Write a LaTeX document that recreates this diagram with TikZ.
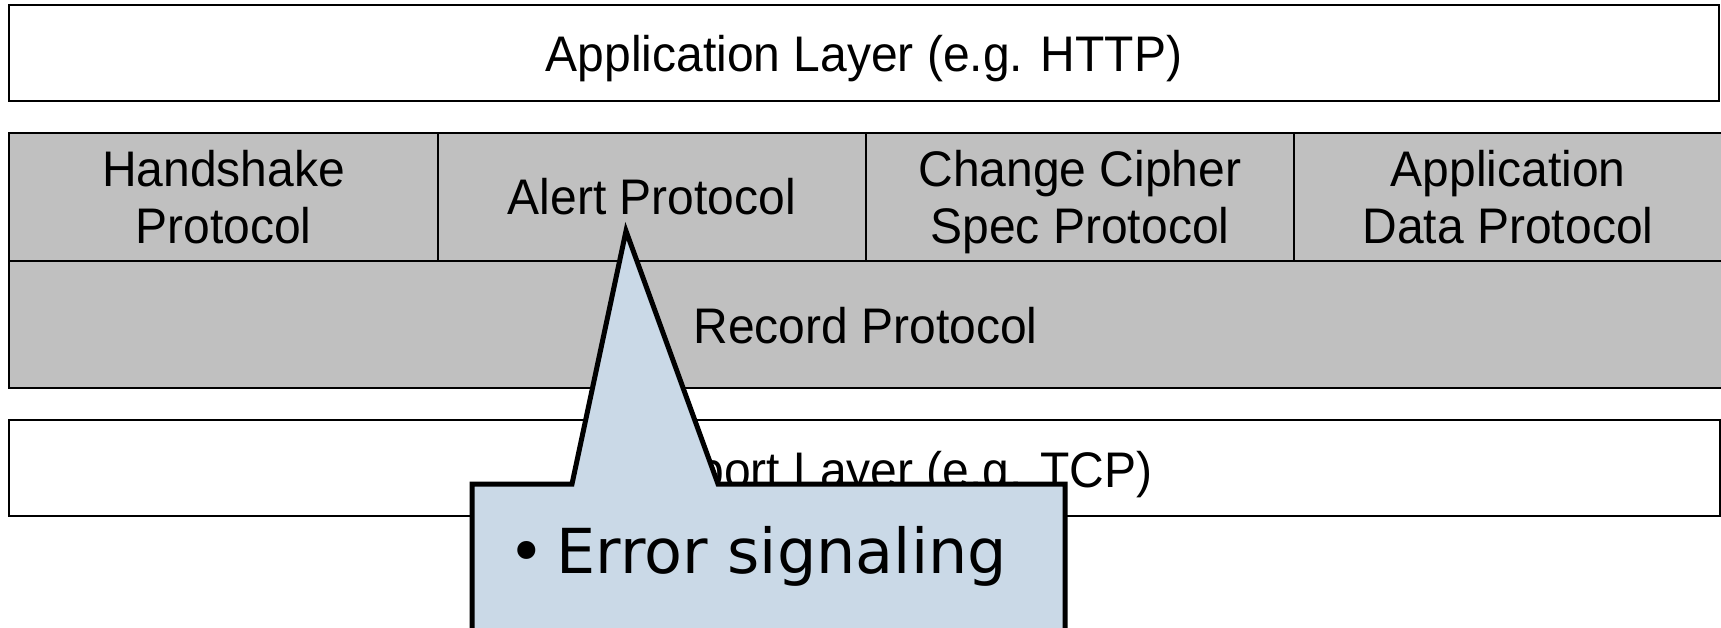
\documentclass[tikz,border=0pt]{standalone}
\usepackage{fontspec}
\setmainfont{Liberation Sans}[FakeStretch=0.96]
\newfontfamily\calloutfont{DejaVu Sans}
\begin{document}
\begin{tikzpicture}[x=1pt,y=-1pt,
  layer/.style={draw=black,line width=2pt,fill=white,inner sep=0pt,minimum height=96pt},
  proto/.style={draw=black,line width=2pt,fill=protogray,inner sep=0pt},
  boxtext/.style={inner sep=0pt,align=center,font=\fontsize{50}{57.5}\selectfont},
  callout/.style={draw=black,line width=5pt,fill=calloutblue,line join=miter}]
\definecolor{protogray}{RGB}{192,192,192}
\definecolor{calloutblue}{RGB}{202,217,231}
\useasboundingbox (0,0) rectangle (1721,628);
\clip (0,0) rectangle (1721,628);

% application layer
\node[layer,minimum width=1710pt] (app) at (864,53) {};
\node[boxtext,anchor=base] (appT) at (app.center |- 0,71.5) {Application Layer (e.g. HTTP)};

% protocols sitting on the record layer
\node[proto,minimum width=429pt,minimum height=128pt] (hs) at (223.5,197) {};
\node[proto,minimum width=428pt,minimum height=128pt] (alert) at (652,197) {};
\node[proto,minimum width=428pt,minimum height=128pt] (ccs) at (1080,197) {};
\node[proto,minimum width=428pt,minimum height=128pt] (appdata) at (1508,197) {};
\node[proto,minimum width=1713pt,minimum height=127pt] (record) at (865.5,324.5) {};

% labels: the strut fixes the first baseline 40.25pt below the top
\node[boxtext,anchor=north] (hsT) at (hs.center |- 0,146) {\strut Handshake\\Protocol};
\node[boxtext,anchor=base] (alertT) at (alert.center |- 0,214.5) {Alert Protocol};
\node[boxtext,anchor=north] (ccsT) at (ccs.center |- 0,146) {\strut Change Cipher\\Spec Protocol};
\node[boxtext,anchor=north] (appdataT) at (appdata.center |- 0,146) {\strut Application\\Data Protocol};
\node[boxtext,anchor=base] (recordT) at (record.center |- 0,343) {Record Protocol};

% transport layer
\node[layer,minimum width=1711pt] (tcp) at (864.5,468) {};
\node[boxtext,anchor=base] (tcpT) at (tcp.center |- 0,487) {Transport Layer (e.g. TCP)};

% callout pointing at the alert protocol
\coordinate (tip) at (626,231);
\draw[callout] (472,700) -- (472,484) -- (572,484) -- (tip) -- (718,484)
  -- (1065,484) -- (1065,700) -- cycle;
\node[anchor=base west,inner sep=0pt,font=\calloutfont\fontsize{62}{70}\selectfont]
  (note) at (508,573) {\textbullet\hspace{12pt}Error signaling};
\end{tikzpicture}
\end{document}
